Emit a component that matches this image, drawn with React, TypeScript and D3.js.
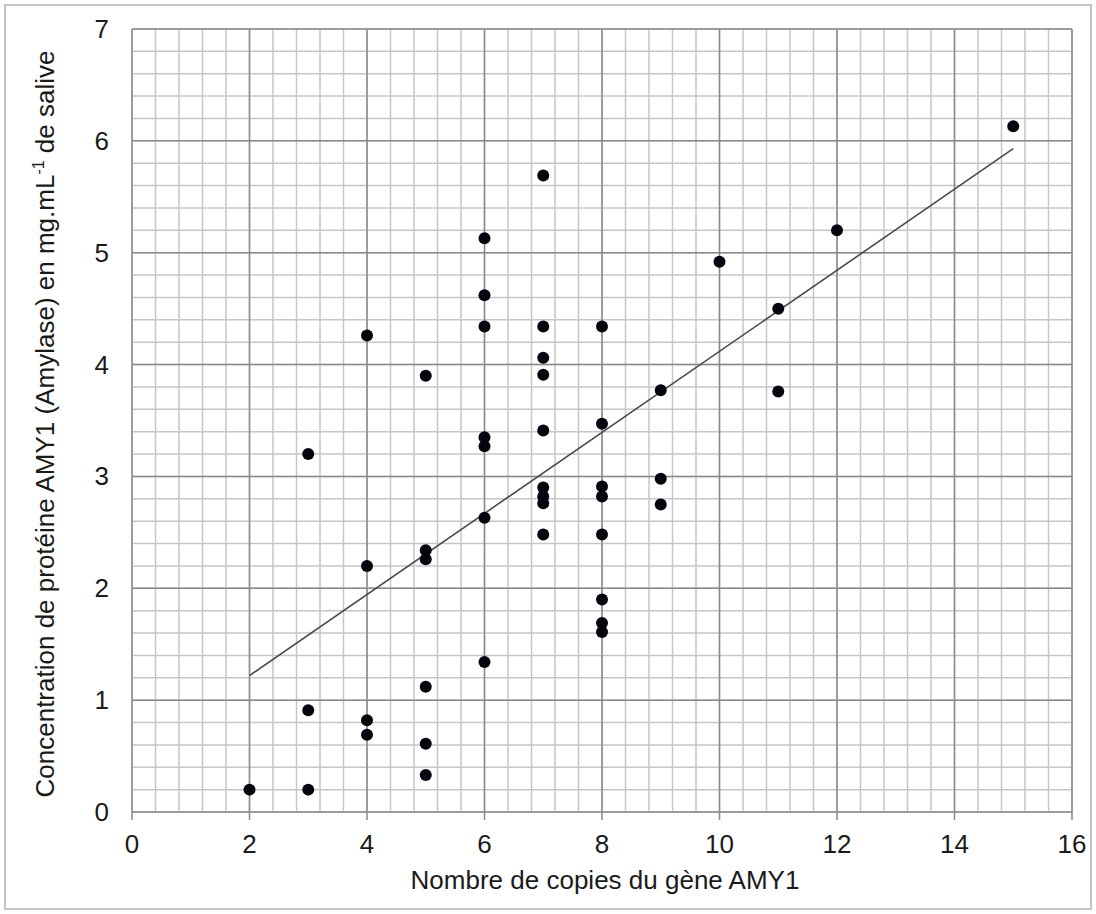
import React from "react";
import * as d3 from "d3";

// Data
const copyNumbers = [2, 3, 3, 3, 4, 4, 4, 4, 5, 5, 5, 5, 5, 5, 6, 6, 6, 6, 6, 6, 6, 7, 7, 7, 7, 7, 7, 7, 7, 7, 8, 8, 8, 8, 8, 8, 8, 8, 9, 9, 9, 10, 11, 11, 12, 15];
const amylase = [0.2, 3.2, 0.91, 0.2, 4.26, 2.2, 0.82, 0.69, 3.9, 2.34, 2.26, 1.12, 0.61, 0.33, 5.13, 4.62, 4.34, 3.35, 3.27, 2.63, 1.34, 5.69, 4.34, 4.06, 3.91, 3.41, 2.9, 2.82, 2.76, 2.48, 4.34, 3.47, 2.91, 2.82, 2.48, 1.9, 1.69, 1.61, 3.77, 2.98, 2.75, 4.92, 4.5, 3.76, 5.2, 6.13];
const trendX = [2, 15];
const trendY = [1.22, 5.93];
const xTicks = [0, 2, 4, 6, 8, 10, 12, 14, 16];
const yTicks = [0, 1, 2, 3, 4, 5, 6, 7];

const W = 1096;
const H = 914;
const left = 132;
const right = 1072;
const top = 29;
const bottom = 812;
const FONT = "'Liberation Sans', Arial, sans-serif";

export default function App() {
  const x = d3.scaleLinear().domain([0, 16]).range([left, right]);
  const y = d3.scaleLinear().domain([0, 7]).range([bottom, top]);

  const minorX = d3.range(0, 80 + 1).map((i) => i * 0.4).filter((v) => v <= 16.0001);
  const minorY = d3.range(0, 35 + 1).map((i) => i * 0.2).filter((v) => v <= 7.0001);

  const line = d3
    .line<number>()
    .x((_, i) => x(trendX[i]))
    .y((d) => y(d));

  return (
    <svg
      width={W}
      height={H}
      style={{ position: "absolute", left: 0, top: 0, background: "#fff" }}
      fontFamily={FONT}
    >
      <rect x={0} y={0} width={W} height={H} fill="#fff" />
      <rect x={5} y={5} width={1086} height={904} fill="none" stroke="#c4c4c4" strokeWidth={2} />

      {/* minor grid */}
      {minorX.map((v, i) => (
        <line key={"mx" + i} x1={x(v)} x2={x(v)} y1={top} y2={bottom} stroke="#c6c6c6" strokeWidth={1.5} />
      ))}
      {minorY.map((v, i) => (
        <line key={"my" + i} x1={left} x2={right} y1={y(v)} y2={y(v)} stroke="#c6c6c6" strokeWidth={1.5} />
      ))}
      {/* major grid */}
      {xTicks.map((v) => (
        <line key={"Mx" + v} x1={x(v)} x2={x(v)} y1={top} y2={bottom + 8} stroke="#8a8a8a" strokeWidth={1.5} />
      ))}
      {yTicks.map((v) => (
        <line key={"My" + v} x1={left} x2={right} y1={y(v)} y2={y(v)} stroke="#8a8a8a" strokeWidth={1.5} />
      ))}

      {/* trend line */}
      <path d={line(trendY) || ""} fill="none" stroke="#4a4a4a" strokeWidth={1.6} />

      {/* points */}
      {copyNumbers.map((c, i) => (
        <circle key={"p" + i} cx={x(c)} cy={y(amylase[i])} r={6} fill="#05050f" />
      ))}

      {/* tick labels */}
      {xTicks.map((v) => (
        <text key={"tx" + v} x={x(v)} y={853} textAnchor="middle" fontSize={26} fill="#1a1a1a">
          {v}
        </text>
      ))}
      {yTicks.map((v) => (
        <text key={"ty" + v} x={109} y={y(v) + 9} textAnchor="end" fontSize={26} fill="#1a1a1a">
          {v}
        </text>
      ))}

      {/* axis titles */}
      <text x={605} y={889} textAnchor="middle" fontSize={26} fill="#1a1a1a">
        Nombre de copies du gène AMY1
      </text>
      <text
        transform={`translate(54, 424) rotate(-90)`}
        textAnchor="middle"
        fontSize={26}
        fill="#1a1a1a"
      >
        Concentration de protéine AMY1 (Amylase) en mg.mL
        <tspan dy={-10} fontSize={16}>-1</tspan>
        <tspan dy={10}> de salive</tspan>
      </text>
    </svg>
  );
}
